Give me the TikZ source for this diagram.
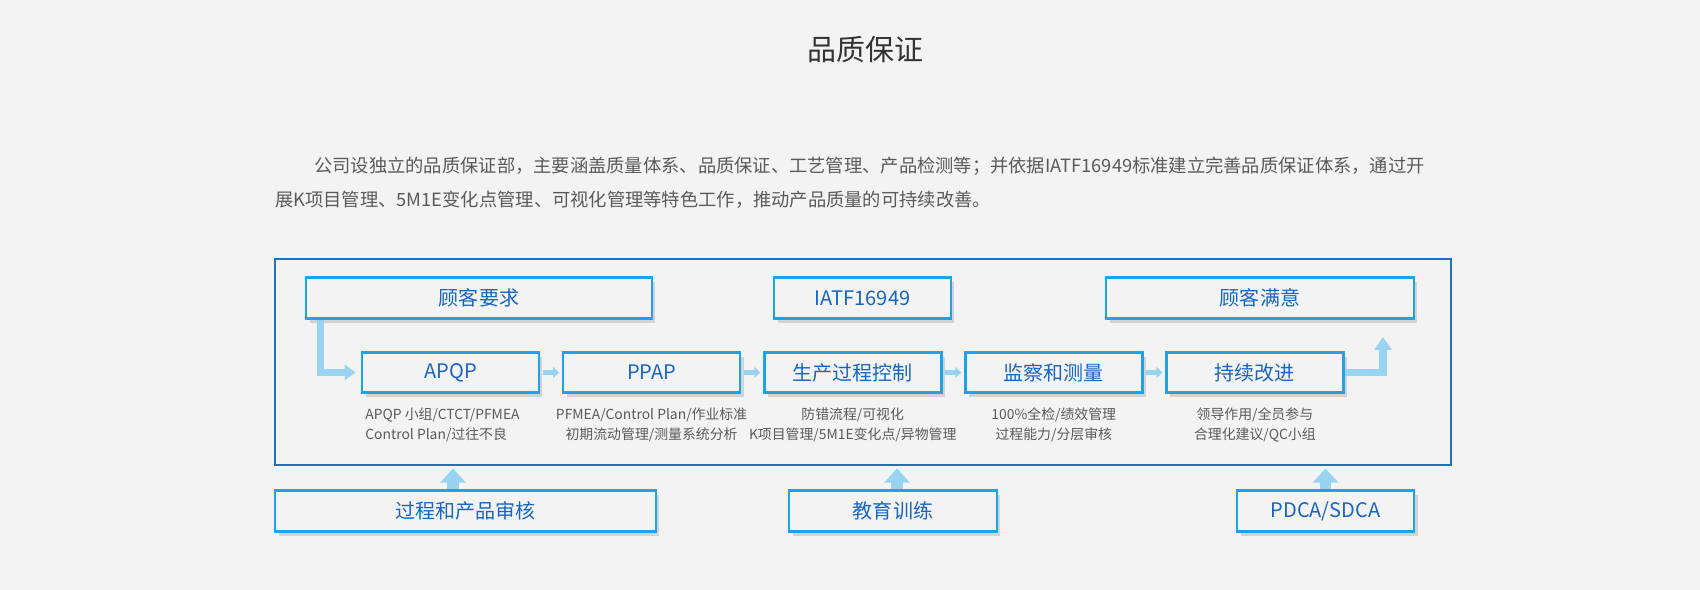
\documentclass[tikz,border=0pt]{standalone}
\usepackage{fontspec}
\setmainfont{Noto Sans CJK SC}
\usepackage{xcolor}
\usetikzlibrary{arrows.meta, positioning, shadows}

\definecolor{bgc}{HTML}{F3F3F3}
\definecolor{framec}{HTML}{2070C0}
\definecolor{boxc}{HTML}{1CA3EC}
\definecolor{textc}{HTML}{1766C2}
\definecolor{arrowc}{HTML}{98D4F2}
\definecolor{greyc}{HTML}{5A5A5A}

\begin{document}
\begin{tikzpicture}[x=0.02cm, y=-0.02cm, node distance=0.43cm]
\tikzstyle{block} = [rectangle, draw=boxc, line width=1.5pt, fill=bgc, text=textc,
    minimum width=3.54cm, minimum height=0.81cm, font=\fontsize{11.4}{13}\selectfont,
    drop shadow={shadow xshift=0.07cm, shadow yshift=-0.09cm, fill=black, opacity=0.13}]
\tikzstyle{desc} = [inner sep=0pt, text=greyc, align=center, font=\fontsize{7.9}{11.4}\selectfont]
\tikzstyle{link} = [arrowc, line width=2.8pt, -{Triangle[length=0.12cm, width=0.22cm]},
    shorten <=1.5pt, shorten >=1.5pt]
\tikzstyle{fat} = [arrowc, line width=4pt, line join=miter]
\tikzstyle{lift} = [arrowc, line width=6.8pt, -{Triangle[length=0.28cm, width=0.5cm]}, shorten >=1.5pt]

% Background and heading
\path[fill=bgc] (0,0) rectangle (1700,590);
\node[text=black!80, font=\fontsize{16.5}{18}\selectfont] (title) at (865,50) {品质保证};
\node[text=greyc, anchor=west, inner sep=0pt, font=\fontsize{10.4}{12}\selectfont] (para1) at (314,166)
    {公司设独立的品质保证部，主要涵盖质量体系、品质保证、工艺管理、产品检测等；并依据IATF16949标准建立完善品质保证体系，通过开};
\node[text=greyc, anchor=west, inner sep=0pt, font=\fontsize{10.4}{12}\selectfont] (para2) at (275,200)
    {展K项目管理、5M1E变化点管理、可视化管理等特色工作，推动产品质量的可持续改善。};

% Frame
\node[draw=framec, line width=1.1pt, minimum width=23.52cm, minimum height=4.12cm] (frame) at (863,362) {};

% Nodes
\node[block, minimum width=6.92cm] (req) at (479,298) {顾客要求};
\node[block] (iatf) at (862.5,298) {IATF16949};
\node[block, minimum width=6.16cm] (sat) at (1260,298) {顾客满意};
\node[block] (apqp) at (450.5,372.5) {APQP};
\node[block, right=of apqp] (ppap) {PPAP};
\node[block, right=of ppap] (ctrl) {生产过程控制};
\node[block, right=of ctrl] (meas) {监察和测量};
\node[block, right=of meas] (impr) {持续改进};
\node[block, minimum width=7.62cm] (audit) at (465.5,511) {过程和产品审核};
\node[block, minimum width=4.16cm] (train) at (893,511) {教育训练};
\node[block] (pdca) at (1325.5,511) {PDCA/SDCA};

% Notes under the steps
\node[desc, align=left, anchor=west] (apqpd) at (365,425) {APQP 小组/CTCT/PFMEA\\Control Plan/过往不良};
\node[desc] (ppapd) at (ppap.south |- 0,425) {PFMEA/Control Plan/作业标准\\初期流动管理/测量系统分析};
\node[desc] (ctrld) at (ctrl.south |- 0,425) {防错流程/可视化\\K项目管理/5M1E变化点/异物管理};
\node[desc] (measd) at (meas.south |- 0,425) {100\%全检/绩效管理\\过程能力/分层审核};
\node[desc] (imprd) at (impr.south |- 0,425) {领导作用/全员参与\\合理化建议/QC小组};

% Arrows
\coordinate (goal) at (1383,337);
\draw[fat, -{Triangle[length=0.22cm, width=0.3cm]}] ([xshift=0.32cm]req.south west) |- ([xshift=-0.1cm]apqp.west);
\draw[link] (apqp) -- (ppap);
\draw[link] (ppap) -- (ctrl);
\draw[link] (ctrl) -- (meas);
\draw[link] (meas) -- (impr);
\draw[fat, line width=4.5pt, -{Triangle[length=0.26cm, width=0.34cm]}] (impr.east) -| (goal);
\draw[lift] ([xshift=-0.25cm]audit.north) -- ([xshift=-0.25cm]audit.north |- frame.south);
\draw[lift] ([xshift=0.08cm]train.north) -- ([xshift=0.08cm]train.north |- frame.south);
\draw[lift] (pdca.north) -- (pdca.north |- frame.south);
\end{tikzpicture}
\end{document}
